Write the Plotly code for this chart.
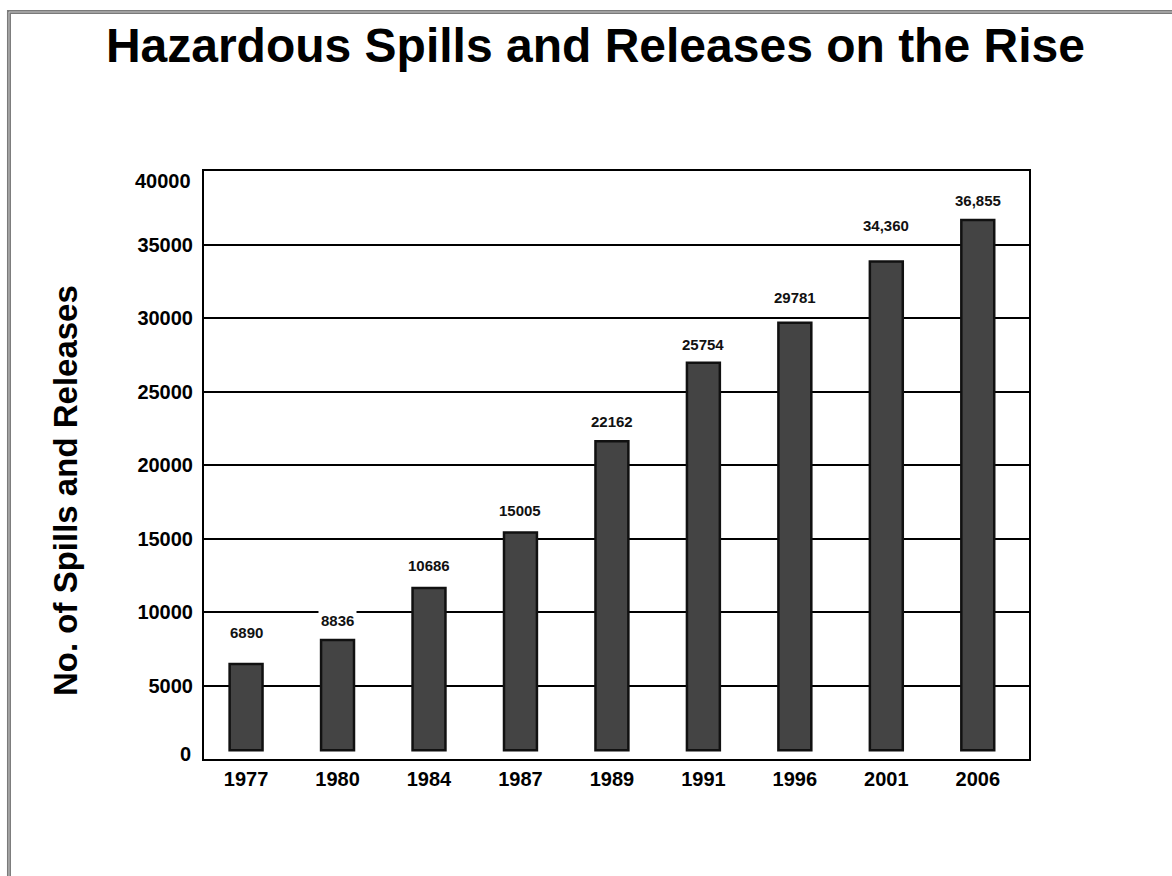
import plotly.graph_objects as go

# ---- data ----
years = ["1977", "1980", "1984", "1987", "1989", "1991", "1996", "2001", "2006"]
bar_tops = [6470, 8100, 11630, 15410, 21610, 26950, 29670, 33850, 36660]
bar_base = 600
label_text = ["6890", "8836", "10686", "15005", "22162", "25754", "29781", "34,360", "36,855"]
y_ticks = [0, 5000, 10000, 15000, 20000, 25000, 30000, 35000, 40000]
y_tick_text = ["0", "5000", "10000", "15000", "20000", "25000", "30000", "35000", "40000"]

# label offsets above bar tops (px) – styling only
label_shift = [31, 19, 23, 22, 20, 18, 25, 36, 20]

FONT = "Liberation Sans, Arial, sans-serif"
TICKFONT = dict(family=FONT, size=20, color="#000000", weight="bold")

fig = go.Figure()
fig.add_trace(go.Bar(
    x=years,
    y=[t - bar_base for t in bar_tops],
    base=bar_base,
    width=0.36,
    marker=dict(color="#444444", line=dict(color="#111111", width=2.5)),
    hoverinfo="skip",
))

annotations = []
for i, (top, txt, sh) in enumerate(zip(bar_tops, label_text, label_shift)):
    annotations.append(dict(
        x=i, y=top, xref="x", yref="y", text=txt, showarrow=False,
        yanchor="middle", yshift=sh,
        font=dict(family=FONT, size=15, color="#111111", weight="bold"),
        bgcolor="white", borderpad=2,
    ))

# end tick labels of the y axis sit slightly inside the axis range in the reference
end_shift = {0: 5, 40000: -10}
tick_text_axis = []
for v, t in zip(y_ticks, y_tick_text):
    if v in end_shift:
        tick_text_axis.append(" ")
        annotations.append(dict(
            x=0, y=v, xref="paper", yref="y", text=t, showarrow=False,
            xanchor="right", yanchor="middle", xshift=-11, yshift=end_shift[v],
            font=TICKFONT,
        ))
    else:
        tick_text_axis.append(t)

annotations.append(dict(
    x=-0.1673, y=0.4575, xref="paper", yref="paper",
    text="No. of Spills and Releases", textangle=-90, showarrow=False,
    font=dict(family=FONT, size=33, color="#000000", weight="bold"),
    xanchor="center", yanchor="middle",
))

shapes = [
    dict(type="rect", xref="paper", yref="paper",
         x0=-0.2364, x1=1.2, y0=-0.25, y1=1.2704,
         line=dict(color="#7a7a7a", width=4), fillcolor="rgba(0,0,0,0)", layer="below"),
    dict(type="rect", xref="paper", yref="paper",
         x0=-0.2364, x1=1.2, y0=-0.25, y1=1.2704,
         line=dict(color="#c8c8c8", width=1), fillcolor="rgba(0,0,0,0)", layer="below"),
]

fig.update_layout(
    width=1172, height=876,
    margin=dict(l=204, r=143, t=171, b=117),
    paper_bgcolor="white", plot_bgcolor="white",
    showlegend=False,
    title=dict(
        text="Hazardous Spills and Releases on the Rise",
        x=0.508, xref="container", xanchor="center",
        y=1 - 45 / 876, yref="container", yanchor="middle",
        font=dict(family=FONT, size=48, color="#000000", weight="bold"),
    ),
    annotations=annotations,
    shapes=shapes,
)

fig.update_xaxes(
    type="category",
    range=[-0.46, len(years) - 0.44], autorange=False,
    showline=True, linecolor="#000000", linewidth=2, mirror=True,
    showgrid=False,
    ticks="outside", ticklen=1, tickcolor="white",
    tickfont=TICKFONT,
)
fig.update_yaxes(
    range=[0, 40000], autorange=False,
    tickvals=y_ticks, ticktext=tick_text_axis,
    showline=True, linecolor="#000000", linewidth=2, mirror=True,
    showgrid=True, gridcolor="#000000", gridwidth=2,
    zeroline=False,
    ticks="outside", ticklen=5, tickcolor="white",
    tickfont=TICKFONT,
)

fig.write_html("out.html")
